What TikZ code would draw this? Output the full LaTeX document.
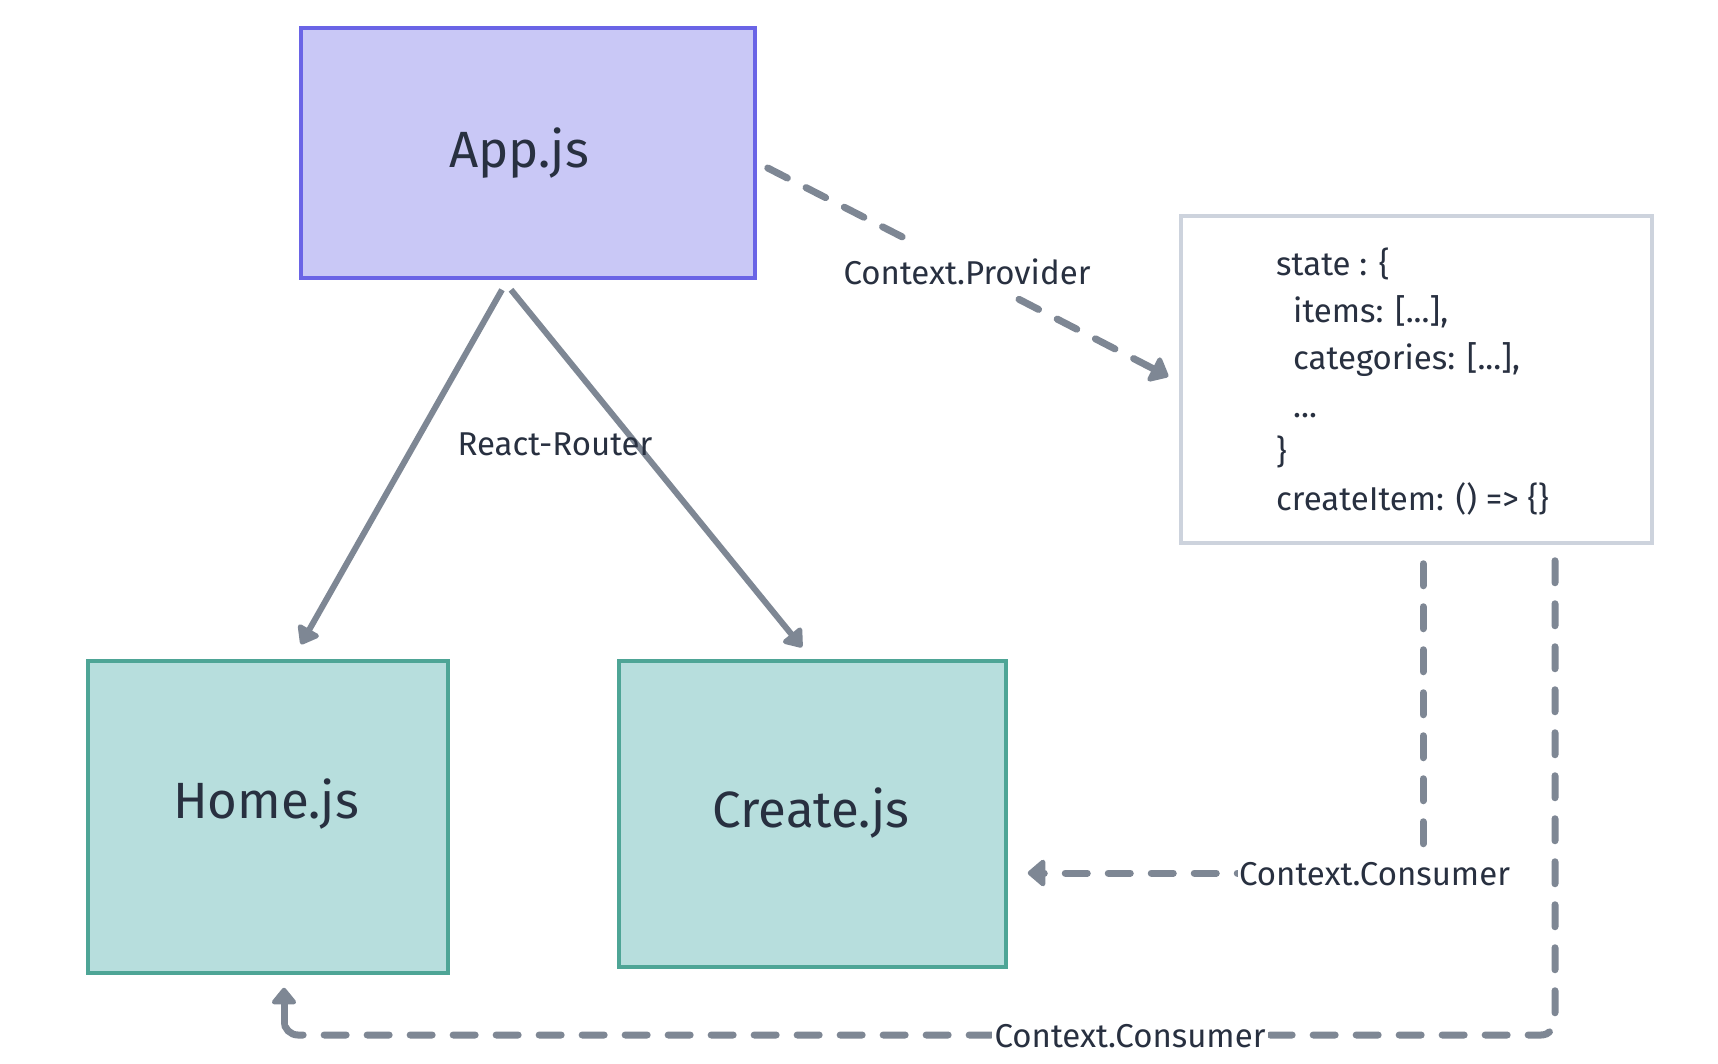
\documentclass[tikz,border=0pt]{standalone}
\usepackage{fontspec}
\setmainfont{Fira Sans}
\usetikzlibrary{arrows.meta,calc}
\definecolor{appfill}{HTML}{C9C8F6}
\definecolor{appline}{HTML}{6A64E6}
\definecolor{tealfill}{HTML}{B7DEDD}
\definecolor{tealline}{HTML}{4EA596}
\definecolor{boxline}{HTML}{CDD3DD}
\definecolor{arrowc}{HTML}{7E8794}
\definecolor{txt}{HTML}{283040}
\begin{document}
\begin{tikzpicture}[x=1pt,y=-1pt,
  comp/.style={rectangle,draw,line width=3.5pt,inner sep=0pt},
  bigtxt/.style={text=txt,font=\fontsize{51}{60}\selectfont,inner sep=0pt},
  lbl/.style={text=txt,font=\fontsize{33}{40}\selectfont,inner sep=2pt},
  solidarrow/.style={draw=arrowc,line width=6pt,-{Triangle[length=19pt,width=27pt,round]}},
  dashline/.style={draw=arrowc,line width=7pt,line cap=round,dash pattern=on 22pt off 21pt},
  dasharrow/.style={dashline,-{Triangle[length=19pt,width=31pt,round]}},
  stubarrow/.style={draw=arrowc,line width=7pt,line cap=round,-{Triangle[length=18pt,width=28pt,round]}}
]
\useasboundingbox[fill=white] (0,0) rectangle (1718,1064);

% boxes
\node[comp,draw=appline,fill=appfill,minimum width=454pt,minimum height=250pt] (app) at (528,153) {};
\node[comp,draw=tealline,fill=tealfill,minimum width=360pt,minimum height=312pt] (home) at (268,817) {};
\node[comp,draw=tealline,fill=tealfill,minimum width=387pt,minimum height=306pt] (create) at (812.5,814) {};
\node[comp,draw=boxline,fill=white,minimum width=471pt,minimum height=327pt] (state) at (1416.5,379.5) {};

% box texts
\node[bigtxt,anchor=base] (apptxt) at (519,168) {App.js};
\node[bigtxt,anchor=base] (hometxt) at (266,818) {Home.js};
\node[bigtxt,anchor=base] (createtxt) at (811,827) {Create.js};

% state contents
\node[lbl,inner sep=0pt,anchor=base west] (s1) at (1276,276) {state : \{};
\node[lbl,inner sep=0pt,anchor=base west] (s2) at (1293,323) {items: [...],};
\node[lbl,inner sep=0pt,anchor=base west] (s3) at (1293,370) {categories: [...],};
\node[lbl,inner sep=0pt,anchor=base west] (s4) at (1293,417) {...};
\node[lbl,inner sep=0pt,anchor=base west] (s5) at (1276,463) {\}};
\node[lbl,inner sep=0pt,anchor=base west] (s6) at (1276,510) {createItem: () => \{\}};

% React-Router arrows
\draw[solidarrow] ($(app.south)+(-26,10)$) -- ($(home.north)+(33,-15)$);
\draw[solidarrow] ($(app.south)+(-17,10)$) -- ($(create.north)+(-10.5,-12)$);
\node[lbl,anchor=base] (rr) at (555,455) {React-Router};

% Context.Provider
\node[lbl,anchor=base] (prov) at (967,285) {Context.Provider};
\draw[dashline] ($(app.east)+(11,15)$) -- ($(prov.center)+(-62,-34)$);
\draw[dasharrow] ($(prov.center)+(52,27)$) -- ($(state.west)+(-11,-3)$);

% Context.Consumer to Create.js
\coordinate (c1s) at ($(state.south)+(6.5,19)$);
\coordinate (c1t) at ($(create.east)+(20,59)$);
\draw[dasharrow] (c1s) |- (c1t);
\node[lbl,fill=white,anchor=base,inner xsep=1pt,inner ysep=3pt] (cons1) at (1374.5,885) {Context.Consumer};

% Context.Consumer to Home.js
\coordinate (c2s) at ($(state.south)+(138.5,16)$);
\coordinate (c2t) at ($(home.south)+(16,13)$);
\coordinate (c2m) at ($(c2t)+(0,36)$);
\coordinate (bottomy) at (0,1035);
\draw[dashline,rounded corners=14pt] (c2s) -- (c2s |- bottomy) -- (c2t |- bottomy) -- (c2m);
\draw[stubarrow] (c2m) -- (c2t);
\node[lbl,fill=white,anchor=base,inner xsep=3pt,inner ysep=3pt] (cons2) at (1130,1047) {Context.Consumer};
\end{tikzpicture}
\end{document}
